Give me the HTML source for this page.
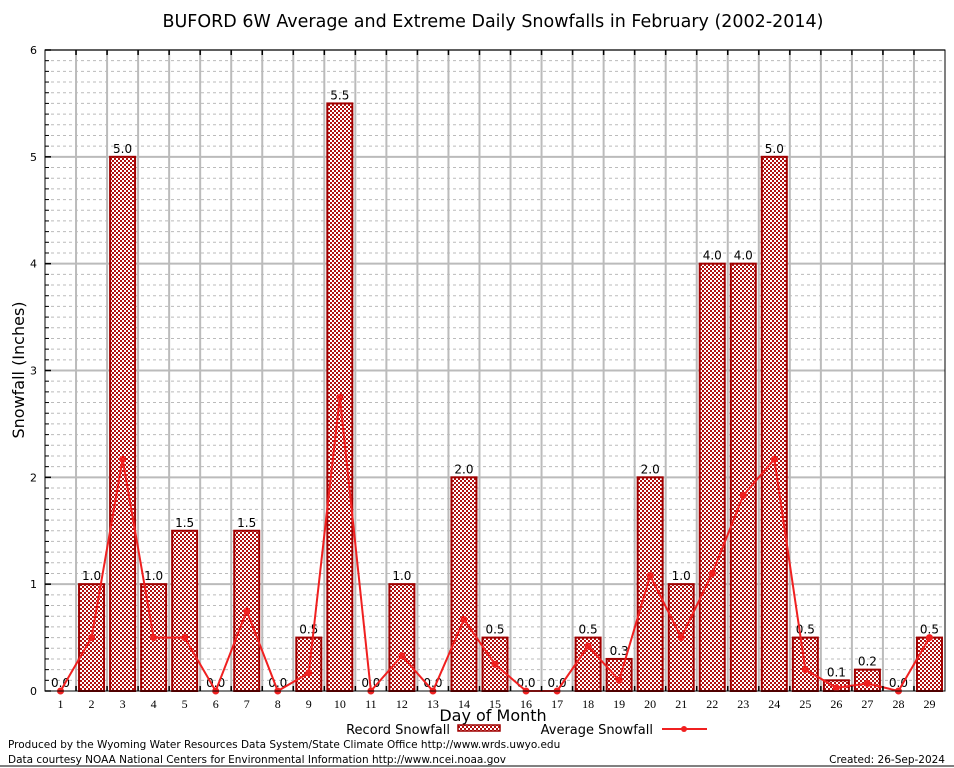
<!DOCTYPE html>
<html><head><meta charset="utf-8"><style>
body{margin:0;background:#fff;}
svg{display:block;font-family:"DejaVu Sans","Liberation Sans",sans-serif;}
</style></head><body>
<svg id="chart" width="954" height="768" xmlns="http://www.w3.org/2000/svg">
<defs>
<pattern id="hatch" width="4" height="4" patternUnits="userSpaceOnUse">
<rect width="4" height="4" fill="#fff"/>
<rect width="2" height="2" fill="#b01010"/>
<rect x="2" y="2" width="2" height="2" fill="#b01010"/>
</pattern>
</defs>
<rect width="954" height="768" fill="#fff"/>
<text x="493" y="27" font-size="17.5" text-anchor="middle">BUFORD 6W Average and Extreme Daily Snowfalls in February (2002-2014)</text>
<g id="grid"></g>
<g id="bars"></g>
<g id="line"></g>
<g id="axes"></g>
<text x="24" y="370" font-size="16" text-anchor="middle" transform="rotate(-90 24 370)">Snowfall (Inches)</text>
<text x="493" y="721" font-size="16" text-anchor="middle">Day of Month</text>
<g>
<text x="450" y="734" font-size="13" text-anchor="end">Record Snowfall</text>
<rect x="458" y="725" width="42" height="6" fill="url(#hatch)" stroke="#a00000" stroke-width="1.5"/>
<text x="653" y="734" font-size="13" text-anchor="end">Average Snowfall</text>
<line x1="662" y1="729" x2="707" y2="729" stroke="#f02020" stroke-width="2"/>
<circle cx="684" cy="729" r="3" fill="#f02020"/>
</g>
<text x="8" y="748" font-size="10.5">Produced by the Wyoming Water Resources Data System/State Climate Office http://www.wrds.uwyo.edu</text>
<text x="8" y="763" font-size="10.5">Data courtesy NOAA National Centers for Environmental Information http://www.ncei.noaa.gov</text>
<text x="945" y="763" font-size="10.5" text-anchor="end">Created:  26-Sep-2024</text>
<line x1="0" y1="766" x2="954" y2="766" stroke="#000" stroke-width="1"/>
</svg>
<script>
const days=[1,2,3,4,5,6,7,8,9,10,11,12,13,14,15,16,17,18,19,20,21,22,23,24,25,26,27,28,29];
const recordValues=[0,1,5,1,1.5,0,1.5,0,0.5,5.5,0,1,0,2,0.5,0,0,0.5,0.3,2,1,4,4,5,0.5,0.1,0.2,0,0.5];
const averageValues=[0,0.5,2.17,0.5,0.5,0,0.75,0,0.17,2.75,0,0.33,0,0.67,0.25,0,0,0.42,0.1,1.08,0.5,1.1,1.83,2.17,0.2,0.03,0.07,0,0.5];
const yTicks=[0,1,2,3,4,5,6];
const NS="http://www.w3.org/2000/svg";
const L=45,R=945,T=50,B=691,yMax=6;
const step=(R-L)/days.length;
const x=d=>L+(d-0.5)*step;
const y=v=>B-v/yMax*(B-T);
function mk(tag,attrs,parent){const e=document.createElementNS(NS,tag);for(const k in attrs)e.setAttribute(k,attrs[k]);parent.appendChild(e);return e;}
const grid=document.getElementById('grid'),bars=document.getElementById('bars'),line=document.getElementById('line'),axes=document.getElementById('axes');
for(let v=0.1;v<yMax;v+=0.1){const r=Math.round(v*10)/10;if(Number.isInteger(r))continue;
 const g=mk('line',{x1:L,x2:R,y1:y(r),y2:y(r),stroke:'#bbb','stroke-dasharray':'3,3','stroke-width':1},grid);
 }
yTicks.forEach(t=>{if(t>0){const g=mk('line',{x1:L,x2:R,y1:y(t),y2:y(t),stroke:'#bbb','stroke-width':2},grid);
 }
 const tl=mk('text',{x:L-8,y:y(t)+4,'font-size':11,'text-anchor':'end'},axes);tl.textContent=t;
 
 mk('line',{x1:L,x2:L+6,y1:y(t),y2:y(t),stroke:'#000','stroke-width':1.5},axes);});
for(let i=1;i<days.length;i++){const bx=L+i*step;
 const g=mk('line',{x1:bx,x2:bx,y1:T,y2:B,stroke:'#bbb','stroke-width':2},grid);
 
 mk('line',{x1:bx,x2:bx,y1:T,y2:T+5,stroke:'#000','stroke-width':1.5},axes);
 mk('line',{x1:bx,x2:bx,y1:B,y2:B-5,stroke:'#000','stroke-width':1.5},axes);}
for(let v=0.1;v<yMax;v+=0.1){const r=Math.round(v*10)/10;if(Number.isInteger(r))continue;
 mk('line',{x1:L,x2:L+4,y1:y(r),y2:y(r),stroke:'#000','stroke-width':1},axes);}
days.forEach((d,i)=>{const v=recordValues[i];const bw=25;
 if(v>0){const b=mk('rect',{x:x(d)-bw/2,y:y(v),width:bw,height:B-y(v),fill:'url(#hatch)',stroke:'#a00000','stroke-width':2},bars);
 }
 const lb=mk('text',{x:x(d),y:y(v)-4,'font-size':12,'text-anchor':'middle'},bars);lb.textContent=v.toFixed(1);
 
 const xl=mk('text',{x:x(d),y:B+17,'font-size':12,'text-anchor':'middle','font-family':'Liberation Serif, serif'},axes);xl.textContent=d;
 });
const pts=days.map((d,i)=>x(d)+','+y(averageValues[i])).join(' ');
const pl=mk('polyline',{points:pts,fill:'none',stroke:'#f02020','stroke-width':2},line);

days.forEach((d,i)=>{const c=mk('circle',{cx:x(d),cy:y(averageValues[i]),r:3.5,fill:'#f02020'},line);
 });
const fr=mk('rect',{x:L,y:T,width:R-L,height:B-T,fill:'none',stroke:'#000','stroke-width':1},axes);

</script>
</body></html>
